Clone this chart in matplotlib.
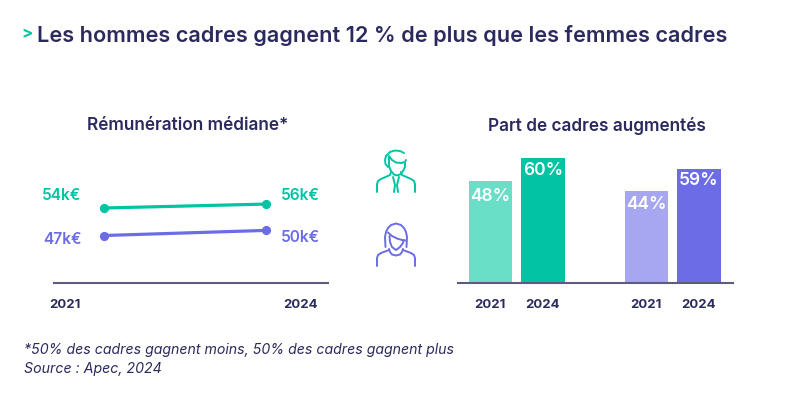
import matplotlib
matplotlib.use('Agg')
import matplotlib.pyplot as plt

W, H = 800, 393
NAVY = '#2b2a5e'
AXIS = '#5d5c80'
GREEN = '#00c4a3'
GREEN_LIGHT = '#69dfc8'
PURPLE = '#6b6ce6'
PURPLE_LIGHT = '#a6a7f0'

line_years = ['2021', '2024']
# plotted levels differ a bit from the printed labels in the original
men_levels = [54, 55]
women_levels = [47, 48.3]
men_labels = ['54k€', '56k€']
women_labels = ['47k€', '50k€']

bar_years = ['2021', '2024', '2021', '2024']
bar_heights = [49, 60, 44, 55]
bar_labels = ['48%', '60%', '44%', '59%']
bar_colors = [GREEN_LIGHT, GREEN, PURPLE_LIGHT, PURPLE]
bar_positions = [0, 1, 2.971, 3.971]
label_drop = [15, 12, 13, 12]

plt.rcParams['font.family'] = ['Inter', 'DejaVu Sans']


def px_axes(fig, left, top, right, bottom):
    return fig.add_axes([left / W, 1 - bottom / H, (right - left) / W, (bottom - top) / H])


def label(fig, x, y, s, size, color=NAVY, weight='semibold', ha='center', **kw):
    fig.text(x / W, 1 - y / H, s, fontsize=size, color=color, fontweight=weight,
             ha=ha, va='center', **kw)


def clean(ax):
    for side in ['top', 'left', 'right']:
        ax.spines[side].set_visible(False)
    ax.spines['bottom'].set_color(AXIS)
    ax.spines['bottom'].set_linewidth(1.5)
    ax.set_xticks([])
    ax.set_yticks([])
    ax.patch.set_alpha(0)


fig = plt.figure(figsize=(W / 100, H / 100), dpi=100, facecolor='white')

# line chart
ax = px_axes(fig, 54, 150, 328, 283)
ax.set_xlim(-0.309, 1.383)
ax.set_ylim(54 - (283 - 208) / 3.93, 54 + (208 - 150) / 3.93)
ax.plot([0, 1], men_levels, color=GREEN, lw=2.3, marker='o', ms=5.6, solid_capstyle='round')
ax.plot([0, 1], women_levels, color=PURPLE, lw=2.3, marker='o', ms=5.6, solid_capstyle='round')
clean(ax)

# bar chart
bx = px_axes(fig, 458, 150, 733, 283)
bx.set_xlim(-0.619, 4.619)
bx.set_ylim(0, 133 / 2.08)
bx.bar(bar_positions, bar_heights, width=0.83, color=bar_colors)
clean(bx)
for p, h, s, d in zip(bar_positions, bar_heights, bar_labels, label_drop):
    bx.annotate(s, (p, h), xytext=(0, -d), textcoords='offset pixels', ha='center', va='center',
                color='white', fontsize=12.5, fontweight='semibold')

# text
label(fig, 21, 34, '>', 12, color=GREEN, weight='bold', ha='left')
label(fig, 37, 35, 'Les hommes cadres gagnent 12 % de plus que les femmes cadres', 15.62, ha='left')
label(fig, 188, 126, 'Rémunération médiane*', 12.4)
label(fig, 597, 126, 'Part de cadres augmentés', 12.4)
label(fig, 62, 196, men_labels[0], 11.2, color=GREEN)
label(fig, 300, 195, men_labels[1], 11.2, color=GREEN)
label(fig, 63, 239, women_labels[0], 11.2, color=PURPLE)
label(fig, 300, 237, women_labels[1], 11.2, color=PURPLE)
label(fig, 65, 305, line_years[0], 9.5, weight='bold')
label(fig, 301, 305, line_years[1], 9.5, weight='bold')
for x, s in zip([490, 543, 646, 699], bar_years):
    label(fig, x, 305, s, 9.5, weight='bold')
label(fig, 24, 350, '*50% des cadres gagnent moins, 50% des cadres gagnent plus', 10.2,
      weight='normal', ha='left', style='italic')
label(fig, 24, 369, 'Source : Apec, 2024', 10.2, weight='normal', ha='left', style='italic')

# icons, drawn in pixel space
ov = fig.add_axes([0, 0, 1, 1])
ov.set_xlim(0, W)
ov.set_ylim(H, 0)
ov.axis('off')
ov.patch.set_alpha(0)


def stroke(xs, ys, color):
    ov.plot(xs, ys, color=color, lw=1.4, solid_capstyle='round', solid_joinstyle='round')


# man
stroke([377, 377, 378, 381, 390, 391], [192, 184, 181, 179, 175, 172], GREEN)
stroke([415, 415, 414, 411, 402, 401], [192, 184, 181, 179, 175, 172], GREEN)
stroke([388, 385.5, 385, 386, 390, 395, 400, 404], [167, 164, 160, 156, 152, 150.5, 151, 153], GREEN)
stroke([389, 392, 396, 401, 405, 406], [156, 160, 162.5, 163, 162, 160], GREEN)
stroke([389, 389, 391, 394, 397, 400, 403, 405, 405], [157, 166, 171, 174.5, 175.5, 174.5, 171, 167, 163], GREEN)
stroke([393, 395, 394], [177, 185, 192], GREEN)
stroke([399, 397, 398], [177, 185, 192], GREEN)

# woman
stroke([377, 377, 378, 381, 389], [266, 258, 255, 253, 250], PURPLE)
stroke([415, 415, 414, 411, 403], [266, 258, 255, 253, 250], PURPLE)
stroke([385.5, 385, 386, 388, 391, 396, 401, 404, 406, 407, 406.5],
       [247, 237, 232, 228, 225, 223.5, 225, 228, 232, 237, 247], PURPLE)
stroke([388, 392, 397, 402, 405.5], [232.5, 236, 238.5, 240, 240.5], PURPLE)
stroke([389.5, 390, 392, 396, 400, 403, 403.5], [236, 242, 247, 250, 247, 243, 240], PURPLE)
stroke([389, 390, 392, 396, 400, 402, 403], [249, 252, 254.5, 255.5, 254.5, 252, 249], PURPLE)

fig.savefig('out.png', dpi=100)
